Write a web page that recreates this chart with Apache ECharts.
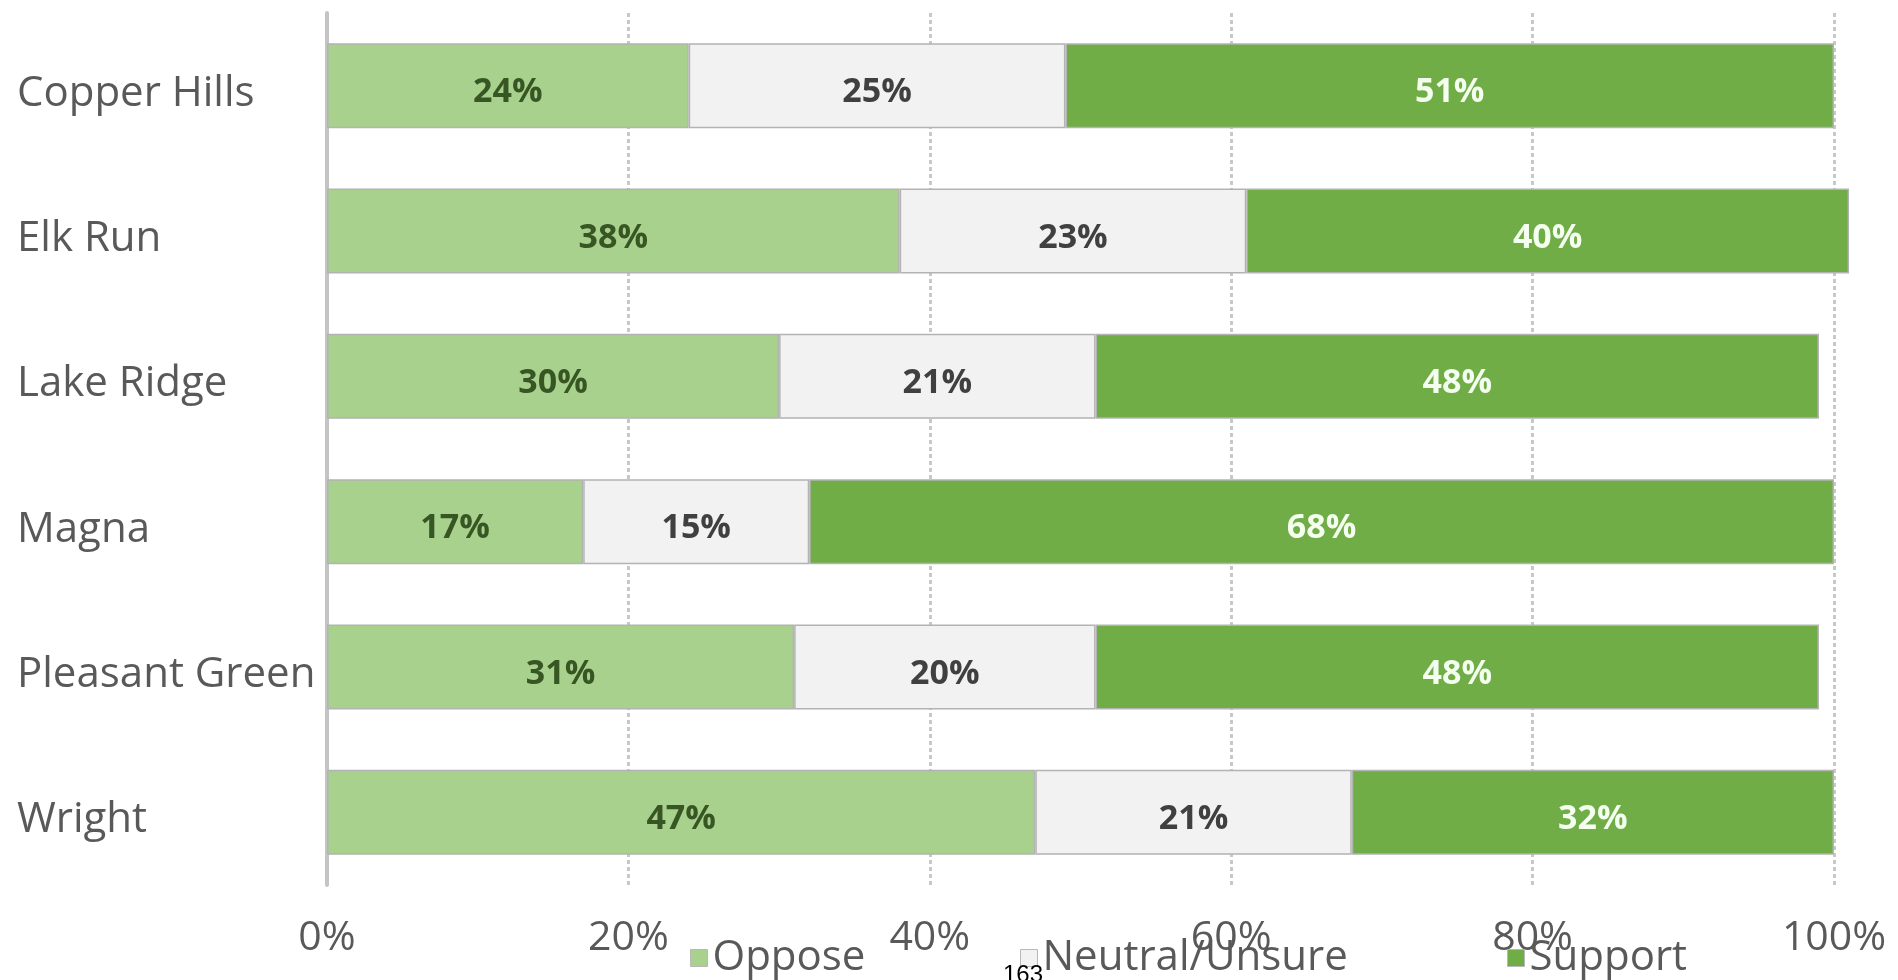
<!DOCTYPE html>
<html>
<head>
<meta charset="utf-8">
<script src="https://cdn.jsdelivr.net/npm/echarts@6/dist/echarts.min.js"></script>
<style>
html,body{margin:0;padding:0;background:#fff;}
#chart{width:1898px;height:980px;}
</style>
</head>
<body>
<div id="chart"></div>
<script>
const categories = ['Copper Hills', 'Elk Run', 'Lake Ridge', 'Magna', 'Pleasant Green', 'Wright'];
const oppose  = [24, 38, 30, 17, 31, 47];
const neutral = [25, 23, 21, 15, 20, 21];
const support = [51, 40, 48, 68, 48, 32];
const seriesNames = ['Oppose', 'Neutral/Unsure', 'Support'];
const xTicks = [0, 20, 40, 60, 80, 100];
const footnote = '163';

const FONT = '"Open Sans", sans-serif';
const colors = ['#a9d18e', '#f2f2f2', '#70ad47'];
const labelColors = ['#375623', '#404040', '#f4fff0'];
const dataSets = [oppose, neutral, support];

const chart = echarts.init(document.getElementById('chart'), null, {renderer: 'canvas'});

const series = dataSets.map((d, i) => ({
  name: seriesNames[i],
  type: 'bar',
  stack: 'total',
  data: d,
  clip: false,
  barCategoryGap: '41.5%',
  itemStyle: {color: colors[i], borderColor: '#b3b3b3', borderWidth: 1.5},
  label: {
    show: true,
    position: 'inside',
    formatter: '{c}%',
    offset: [0, 7],
    fontFamily: FONT,
    fontSize: 34,
    fontWeight: 'bold',
    color: labelColors[i]
  },
  emphasis: {disabled: true}
}));

const legendLefts = [690, 1020, 1507];
const legends = seriesNames.map((n, i) => ({
  data: [n],
  left: legendLefts[i],
  top: 932,
  padding: [5, 0, 0, 0],
  orient: 'horizontal',
  icon: 'rect',
  itemWidth: 17,
  itemHeight: 17,
  itemGap: 0,
  itemStyle: {borderColor: '#b8b8b8', borderWidth: 1},
  textStyle: {fontFamily: FONT, fontSize: 42, color: '#595959', padding: [11, 0, 0, 0]},
  selectedMode: false
}));

chart.setOption({
  animation: false,
  backgroundColor: '#ffffff',
  grid: {left: 327, right: 64, top: 13, bottom: 95, containLabel: false},
  legend: legends,
  xAxis: {
    type: 'value',
    min: xTicks[0],
    max: xTicks[xTicks.length - 1],
    interval: xTicks[1] - xTicks[0],
    axisLine: {show: false},
    axisTick: {show: false},
    axisLabel: {
      formatter: '{value}%',
      fontFamily: FONT,
      fontSize: 41,
      lineHeight: 40,
      color: '#595959',
      margin: 33
    },
    splitLine: {show: true, lineStyle: {color: '#c8c8c8', width: 3, type: [4, 3]}}
  },
  yAxis: {
    type: 'category',
    data: categories,
    inverse: true,
    axisLine: {show: true, lineStyle: {color: '#c4c4c4', width: 4}},
    axisTick: {show: false},
    axisLabel: {
      align: 'left',
      margin: 310,
      formatter: v => '{c|' + v + '}',
      rich: {
        c: {
          fontFamily: FONT,
          fontSize: 42,
          color: '#595959',
          padding: [16, 0, 0, 0]
        }
      }
    },
    splitLine: {show: false}
  },
  series: series,
  graphic: [{
    type: 'text',
    left: 1003,
    top: 963,
    z: 100,
    style: {text: footnote, font: '24px "Liberation Sans", Arial, sans-serif', fill: '#000000'}
  }]
});
</script>
</body>
</html>
